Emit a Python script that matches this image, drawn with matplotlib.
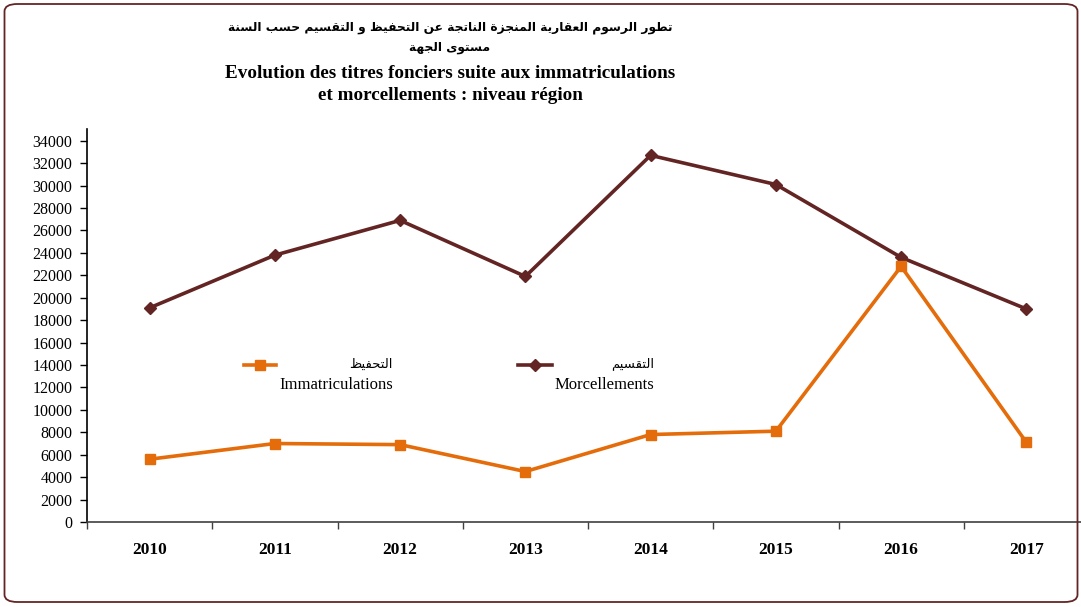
import matplotlib
matplotlib.use("Agg")
import matplotlib.pyplot as plt
from matplotlib.patches import FancyBboxPatch
from matplotlib.lines import Line2D

# ---- data ----
years = ["2010", "2011", "2012", "2013", "2014", "2015", "2016", "2017"]
immatriculations = [5600, 7000, 6900, 4500, 7800, 8100, 22800, 7100]
morcellements = [19100, 23800, 26900, 21900, 32700, 30100, 23600, 19000]
y_ticks = list(range(0, 34001, 2000))

title_ar_1 = "تطور الرسوم العقارية المنجزة الناتجة عن التحفيظ و التقسيم حسب السنة"
title_ar_2 = "مستوى الجهة"
title_fr_1 = "Evolution des titres fonciers suite aux immatriculations"
title_fr_2 = "et morcellements : niveau région"
label_imm_ar, label_imm_fr = "التحفيظ", "Immatriculations"
label_mor_ar, label_mor_fr = "التقسيم", "Morcellements"

ORANGE = "#E46C0A"
DARKRED = "#632523"

# ---- minimal Arabic shaping (presentation forms + visual order) ----
FORMS = {  # isolated, final, initial, medial
    "\u0627": ("\uFE8D", "\uFE8E", None, None),
    "\u0628": ("\uFE8F", "\uFE90", "\uFE91", "\uFE92"),
    "\u0629": ("\uFE93", "\uFE94", None, None),
    "\u062A": ("\uFE95", "\uFE96", "\uFE97", "\uFE98"),
    "\u062C": ("\uFE9D", "\uFE9E", "\uFE9F", "\uFEA0"),
    "\u062D": ("\uFEA1", "\uFEA2", "\uFEA3", "\uFEA4"),
    "\u0631": ("\uFEAD", "\uFEAE", None, None),
    "\u0632": ("\uFEAF", "\uFEB0", None, None),
    "\u0633": ("\uFEB1", "\uFEB2", "\uFEB3", "\uFEB4"),
    "\u0637": ("\uFEC1", "\uFEC2", "\uFEC3", "\uFEC4"),
    "\u0638": ("\uFEC5", "\uFEC6", "\uFEC7", "\uFEC8"),
    "\u0639": ("\uFEC9", "\uFECA", "\uFECB", "\uFECC"),
    "\u0641": ("\uFED1", "\uFED2", "\uFED3", "\uFED4"),
    "\u0642": ("\uFED5", "\uFED6", "\uFED7", "\uFED8"),
    "\u0644": ("\uFEDD", "\uFEDE", "\uFEDF", "\uFEE0"),
    "\u0645": ("\uFEE1", "\uFEE2", "\uFEE3", "\uFEE4"),
    "\u0646": ("\uFEE5", "\uFEE6", "\uFEE7", "\uFEE8"),
    "\u0647": ("\uFEE9", "\uFEEA", "\uFEEB", "\uFEEC"),
    "\u0648": ("\uFEED", "\uFEEE", None, None),
    "\u0649": ("\uFEEF", "\uFEF0", None, None),
    "\u064A": ("\uFEF1", "\uFEF2", "\uFEF3", "\uFEF4"),
}


def shape_arabic(text):
    out = []
    n = len(text)
    for i, ch in enumerate(text):
        if ch not in FORMS:
            out.append(ch)
            continue
        prev = text[i - 1] if i > 0 else ""
        nxt = text[i + 1] if i < n - 1 else ""
        joins_prev = prev in FORMS and FORMS[prev][2] is not None
        joins_next = FORMS[ch][2] is not None and nxt in FORMS
        iso, fin, ini, med = FORMS[ch]
        if joins_prev and joins_next:
            out.append(med)
        elif joins_prev:
            out.append(fin)
        elif joins_next:
            out.append(ini)
        else:
            out.append(iso)
    return "".join(reversed(out))


SERIF = ["Liberation Serif", "DejaVu Serif"]
ARABIC = ["DejaVu Sans"]

W, H = 1081, 607
fig = plt.figure(figsize=(W / 100, H / 100), dpi=100)
fig.patch.set_facecolor("white")

# rounded frame
frame = FancyBboxPatch((4.5 / W, 5 / H), 1073 / W, 598 / H,
                       boxstyle="round,pad=0,rounding_size=0.012",
                       transform=fig.transFigure, facecolor="none",
                       edgecolor=DARKRED, linewidth=1.3, zorder=0)
fig.patches.append(frame)

ax = fig.add_axes([87 / W, 85 / H, 1002 / W, 393 / H])
x = list(range(len(years)))
ax.plot(x, morcellements, color=DARKRED, lw=2.6, marker="D", ms=6,
        clip_on=False, zorder=3)
ax.plot(x, immatriculations, color=ORANGE, lw=2.6, marker="s", ms=7,
        clip_on=False, zorder=4)

ax.set_xlim(-0.5, 7.5)
ax.set_ylim(0, 35050)
ax.set_yticks(y_ticks)
ax.set_yticklabels([str(v) for v in y_ticks], fontfamily=SERIF, fontsize=11.5)
ax.tick_params(axis="y", direction="out", length=5, width=1, pad=5.5, colors="black")

ax.set_xticks(x)
ax.set_xticklabels(years, fontfamily=SERIF, fontsize=12.5, fontweight="bold")
ax.tick_params(axis="x", which="major", length=0, pad=14.5)
ax.set_xticks([i - 0.5 for i in range(len(years) + 1)], minor=True)
ax.tick_params(axis="x", which="minor", direction="out", length=5, width=1,
               color="#404040")

for s in ("top", "right"):
    ax.spines[s].set_visible(False)
ax.spines["left"].set_color("black")
ax.spines["bottom"].set_color("#404040")
ax.spines["left"].set_linewidth(1.2)
ax.spines["bottom"].set_linewidth(1.2)

# legend drawn inside the plot area
def legend_entry(x0, x1, xtxt, color, marker, ms, ar, fr):
    y_line = 1 - (365 - 129) / 393
    ln = Line2D([x0 / 1002, x1 / 1002], [y_line, y_line], transform=ax.transAxes,
                color=color, lw=2.6)
    mk = Line2D([(x0 + x1) / 2 / 1002], [y_line], transform=ax.transAxes,
                color=color, marker=marker, ms=ms, lw=0)
    ax.add_line(ln)
    ax.add_line(mk)
    ax.text(xtxt / 1002, 1 - (364 - 129) / 393, shape_arabic(ar),
            transform=ax.transAxes, ha="right", va="center",
            fontfamily=ARABIC, fontsize=9.5)
    ax.text(xtxt / 1002, 1 - (385 - 129) / 393, fr, transform=ax.transAxes,
            ha="right", va="center", fontfamily=SERIF, fontsize=12)

legend_entry(244 - 87, 276 - 87, 393 - 87, ORANGE, "s", 7, label_imm_ar, label_imm_fr)
legend_entry(518 - 87, 552 - 87, 654 - 87, DARKRED, "D", 6, label_mor_ar, label_mor_fr)

# titles
cx = 450 / W
fig.text(cx, 1 - 28 / H, shape_arabic(title_ar_1), ha="center", va="center",
         fontfamily=ARABIC, fontsize=8.8, fontweight="bold")
fig.text(cx, 1 - 47 / H, shape_arabic(title_ar_2), ha="center", va="center",
         fontfamily=ARABIC, fontsize=8.8, fontweight="bold")
fig.text(cx, 1 - 73 / H, title_fr_1, ha="center", va="center",
         fontfamily=SERIF, fontsize=13.8, fontweight="bold")
fig.text(cx, 1 - 95 / H, title_fr_2, ha="center", va="center",
         fontfamily=SERIF, fontsize=13.8, fontweight="bold")

fig.savefig("out.png", dpi=100)
